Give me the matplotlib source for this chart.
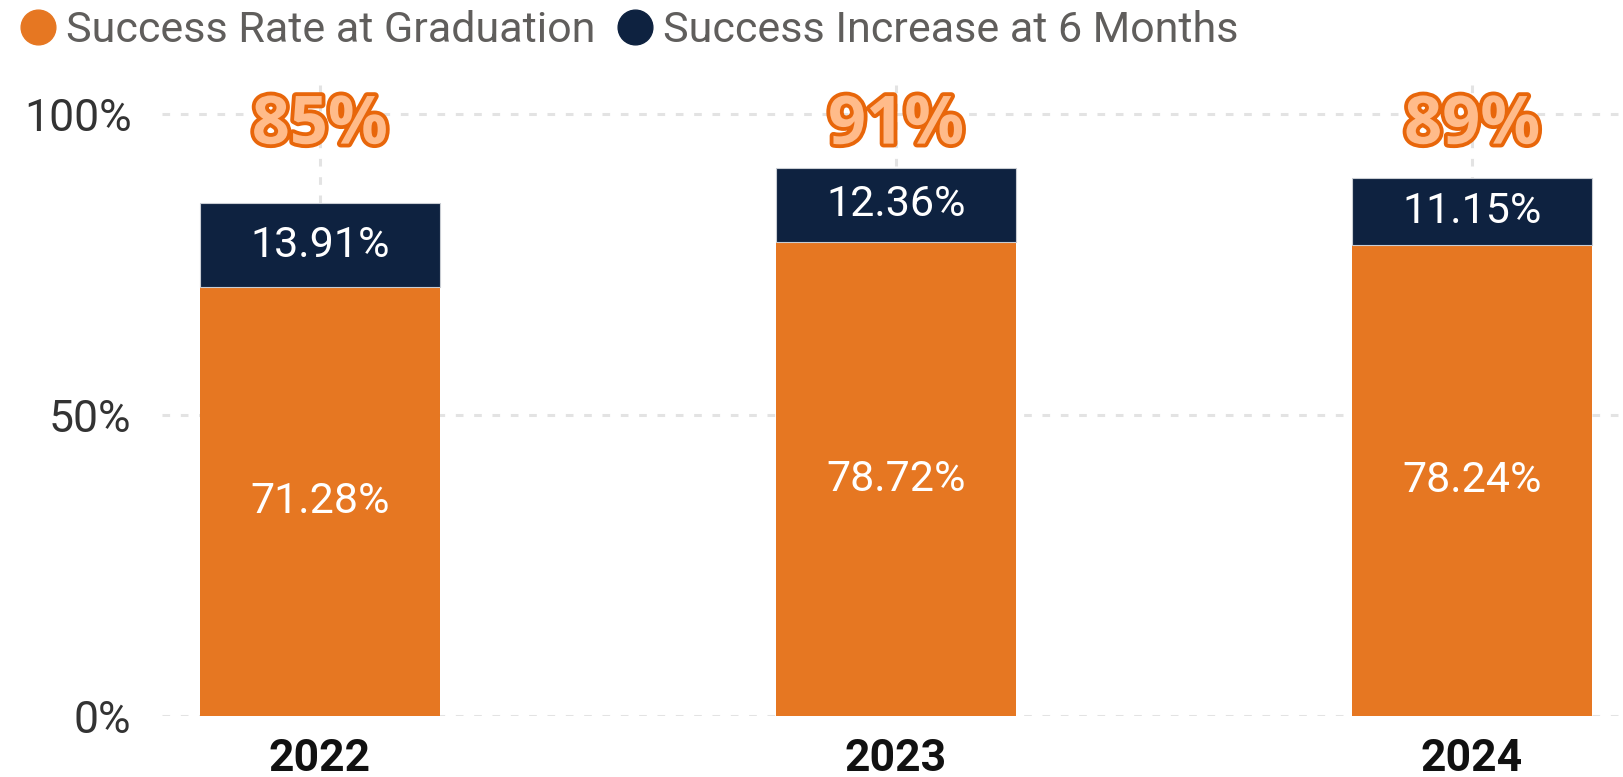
import matplotlib.pyplot as plt
import matplotlib.patheffects as pe
from matplotlib.lines import Line2D
import numpy as np

# data
years = ['2022', '2023', '2024']
grad_rate = [71.28, 78.72, 78.24]        # Success Rate at Graduation
six_month_gain = [13.91, 12.36, 11.15]   # Success Increase at 6 Months
yticks = [0, 50, 100]

orange = '#E67722'
navy = '#0E2240'

plt.rcParams['font.family'] = ['Roboto', 'DejaVu Sans']

fig = plt.figure(figsize=(16.23, 7.77), dpi=100)
ax = fig.add_axes([0.0998, 0.0785, 0.9002, 0.8134])

x = np.arange(len(years))
width = 0.417
totals = np.array(grad_rate) + np.array(six_month_gain)

ax.bar(x, grad_rate, width, color=orange, zorder=2)
ax.bar(x, six_month_gain, width, bottom=grad_rate, color=navy,
       edgecolor='#C9CDD3', linewidth=0.8, zorder=2)

# value labels inside the segments
for xi, g, s in zip(x, grad_rate, six_month_gain):
    ax.text(xi, g / 2, f'{g:.2f}%', ha='center', va='center',
            color='white', fontsize=31, zorder=3)
    ax.text(xi, g + s / 2, f'{s:.2f}%', ha='center', va='center',
            color='white', fontsize=31, zorder=3)

# total labels on top
for xi, t in zip(x, totals):
    ax.text(xi, 98.0, f'{t:.0f}%', ha='center', va='center',
            color='#FFBB8A', fontsize=48, fontweight='bold',
            family=['Open Sans', 'DejaVu Sans'], zorder=4,
            path_effects=[pe.withStroke(linewidth=5.5, foreground='#E8660A')])

ax.set_xlim(-0.274, 2.262)
ax.set_ylim(0, 105)
ax.set_xticks(x)
ax.set_xticklabels(years, fontsize=32, fontweight='bold', color='#111111')
ax.set_yticks(yticks)
ax.set_yticklabels([f'{v}%' for v in yticks], fontsize=32, color='#333333')
ax.tick_params(axis='both', length=0)
ax.tick_params(axis='y', pad=22)
ax.tick_params(axis='x', pad=16)

ax.grid(True, axis='both', color='#E3E3E3', linestyle=(0, (2.5, 3.5)),
        linewidth=2.2, zorder=0)
ax.set_axisbelow(True)
for sp in ax.spines.values():
    sp.set_visible(False)

handles = [Line2D([], [], marker='o', linestyle='none', markersize=25,
                  markerfacecolor=c, markeredgecolor=c) for c in (orange, navy)]
fig.legend(handles, ['Success Rate at Graduation', 'Success Increase at 6 Months'],
           loc='upper left', bbox_to_anchor=(0.0123, 0.987), ncol=2, frameon=False,
           fontsize=31, labelcolor='#605E5C', handlelength=0.84,
           handletextpad=0.23, columnspacing=0.5, borderpad=0,
           borderaxespad=0)

fig.savefig('out.png', dpi=100)
